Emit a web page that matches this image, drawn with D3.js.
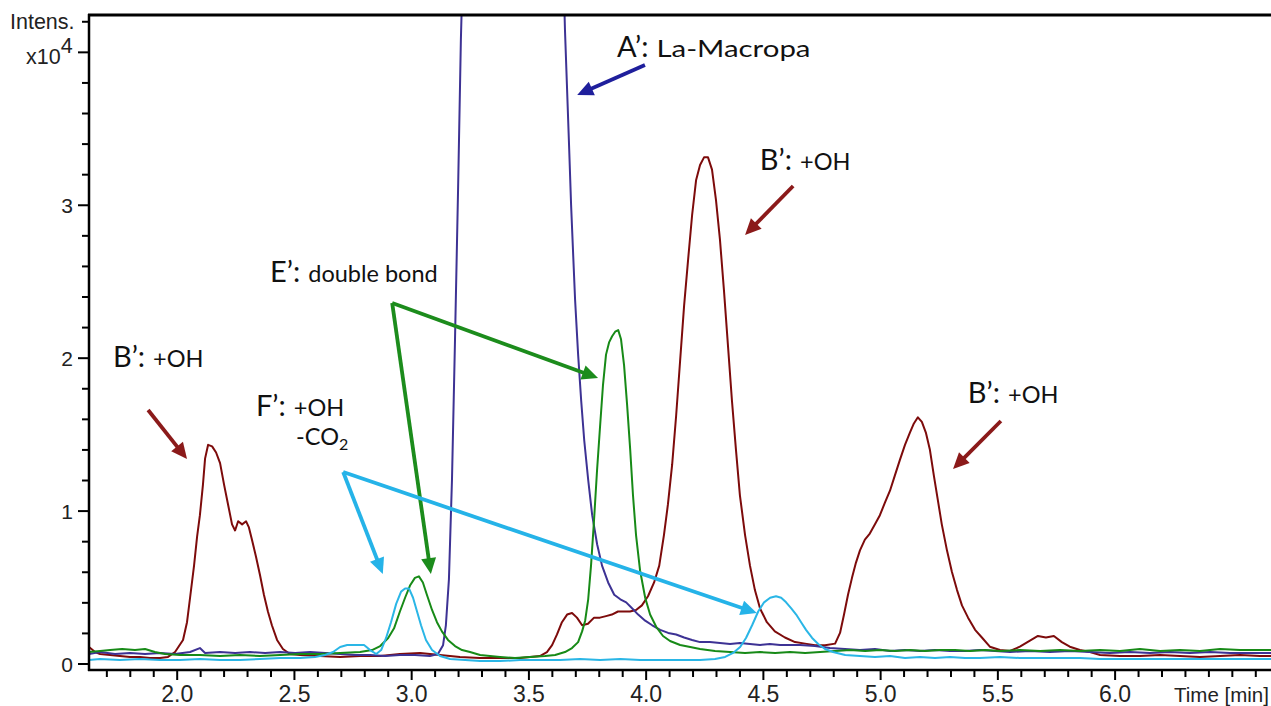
<!DOCTYPE html>
<html>
<head>
<meta charset="utf-8">
<script src="https://cdn.jsdelivr.net/npm/d3@7"></script>
<style>
  html, body { margin: 0; padding: 0; background: #fff; }
  svg { display: block; }
</style>
</head>
<body>
<svg id="chart" width="1271" height="706"></svg>
<script>
// Extracted ion chromatograms, intensity in units of 10^4, time in minutes.
// B': +OH metabolites
const hydroxyTrace = [
  [1.626,0.108],[1.652,0.075],[1.673,0.062],[1.716,0.056],[1.758,0.049],[1.801,0.043],[1.843,0.043],
  [1.886,0.036],[1.929,0.036],[1.963,0.043],[1.993,0.075],[2.027,0.154],[2.044,0.27],[2.057,0.43],
  [2.074,0.64],[2.087,0.83],[2.099,0.97],[2.112,1.17],[2.121,1.34],[2.134,1.43],[2.151,1.42],
  [2.168,1.38],[2.185,1.31],[2.202,1.17],[2.219,1.04],[2.236,0.91],[2.249,0.87],[2.262,0.93],
  [2.279,0.91],[2.296,0.93],[2.308,0.89],[2.321,0.81],[2.338,0.70],[2.355,0.58],[2.372,0.45],
  [2.389,0.34],[2.406,0.25],[2.428,0.154],[2.453,0.095],[2.483,0.062],[2.526,0.056],[2.611,0.049],
  [2.697,0.043],[2.782,0.049],[2.868,0.049],[2.952,0.062],[3.038,0.069],[3.123,0.056],[3.208,0.043],
  [3.293,0.036],[3.379,0.036],[3.464,0.036],[3.549,0.049],[3.579,0.075],[3.601,0.12],[3.622,0.19],
  [3.643,0.27],[3.665,0.32],[3.686,0.33],[3.707,0.30],[3.729,0.25],[3.754,0.26],[3.780,0.30],
  [3.805,0.30],[3.831,0.31],[3.856,0.32],[3.882,0.34],[3.907,0.34],[3.933,0.34],[3.959,0.35],
  [3.984,0.38],[4.010,0.44],[4.036,0.53],[4.058,0.64],[4.078,0.84],[4.095,1.04],[4.113,1.30],
  [4.130,1.62],[4.147,1.98],[4.164,2.34],[4.181,2.64],[4.198,2.93],[4.215,3.16],[4.232,3.26],
  [4.249,3.31],[4.266,3.31],[4.283,3.23],[4.300,3.03],[4.317,2.77],[4.334,2.44],[4.351,2.08],
  [4.368,1.72],[4.385,1.40],[4.402,1.10],[4.424,0.84],[4.445,0.64],[4.466,0.48],[4.488,0.36],
  [4.517,0.27],[4.551,0.21],[4.594,0.17],[4.637,0.14],[4.680,0.13],[4.722,0.12],[4.765,0.12],
  [4.808,0.13],[4.829,0.20],[4.846,0.32],[4.863,0.45],[4.880,0.56],[4.897,0.66],[4.914,0.74],
  [4.935,0.81],[4.956,0.85],[4.978,0.91],[4.999,0.97],[5.020,1.05],[5.042,1.13],[5.063,1.23],
  [5.084,1.33],[5.106,1.43],[5.127,1.51],[5.144,1.57],[5.161,1.61],[5.178,1.58],[5.195,1.51],
  [5.212,1.40],[5.229,1.23],[5.246,1.07],[5.263,0.91],[5.285,0.74],[5.306,0.60],[5.328,0.48],
  [5.349,0.38],[5.375,0.30],[5.405,0.22],[5.434,0.17],[5.468,0.11],[5.511,0.088],[5.554,0.082],
  [5.596,0.11],[5.639,0.15],[5.673,0.18],[5.707,0.17],[5.741,0.18],[5.775,0.14],[5.809,0.11],
  [5.852,0.088],[5.895,0.075],[5.938,0.056],[6.023,0.049],[6.108,0.049],[6.194,0.056],[6.279,0.049],
  [6.364,0.043],[6.450,0.049],[6.535,0.056],[6.620,0.049],[6.667,0.049]
];

// A': La-Macropa (parent compound, off scale)
const macropaTrace = [
  [1.626,0.062],[1.673,0.075],[1.737,0.062],[1.801,0.069],[1.865,0.062],[1.929,0.069],[1.993,0.062],
  [2.057,0.075],[2.099,0.101],[2.121,0.069],[2.185,0.075],[2.249,0.069],[2.313,0.075],[2.377,0.069],
  [2.441,0.075],[2.505,0.069],[2.569,0.075],[2.633,0.069],[2.697,0.062],[2.761,0.056],[2.825,0.056],
  [2.889,0.049],[2.952,0.056],[3.016,0.056],[3.080,0.049],[3.114,0.062],[3.136,0.12],[3.148,0.25],
  [3.161,0.55],[3.174,1.20],[3.187,2.12],[3.200,3.10],[3.212,4.08],[3.221,4.6],[3.435,8.5],
  [3.648,4.6],[3.656,4.14],[3.665,3.75],[3.674,3.36],[3.682,3.00],[3.691,2.67],[3.699,2.38],
  [3.712,2.02],[3.725,1.72],[3.738,1.46],[3.755,1.20],[3.772,0.97],[3.793,0.78],[3.814,0.64],
  [3.840,0.53],[3.866,0.45],[3.892,0.42],[3.917,0.40],[3.943,0.36],[3.968,0.32],[3.998,0.28],
  [4.028,0.25],[4.062,0.22],[4.096,0.20],[4.130,0.19],[4.164,0.17],[4.198,0.154],[4.232,0.14],
  [4.274,0.14],[4.317,0.134],[4.360,0.128],[4.402,0.134],[4.445,0.128],[4.488,0.121],[4.530,0.128],
  [4.573,0.121],[4.616,0.121],[4.658,0.121],[4.722,0.114],[4.786,0.101],[4.850,0.095],[4.914,0.088],
  [4.978,0.095],[5.042,0.082],[5.106,0.088],[5.170,0.082],[5.234,0.088],[5.298,0.082],[5.362,0.082],
  [5.425,0.088],[5.490,0.082],[5.554,0.075],[5.639,0.082],[5.724,0.075],[5.809,0.082],[5.895,0.075],
  [5.980,0.069],[6.065,0.075],[6.151,0.069],[6.236,0.075],[6.321,0.069],[6.407,0.075],[6.492,0.069],
  [6.577,0.069],[6.667,0.069]
];

// E': double bond
const doubleBondTrace = [
  [1.626,0.075],[1.673,0.082],[1.716,0.088],[1.767,0.095],[1.822,0.088],[1.865,0.095],[1.907,0.075],
  [1.950,0.062],[2.014,0.056],[2.099,0.056],[2.185,0.049],[2.270,0.056],[2.355,0.049],[2.441,0.056],
  [2.526,0.062],[2.611,0.062],[2.697,0.069],[2.782,0.075],[2.833,0.088],[2.868,0.114],[2.902,0.167],
  [2.927,0.23],[2.952,0.34],[2.974,0.43],[2.995,0.51],[3.016,0.56],[3.033,0.57],[3.050,0.53],
  [3.067,0.45],[3.089,0.35],[3.110,0.27],[3.131,0.21],[3.157,0.154],[3.187,0.114],[3.217,0.088],
  [3.251,0.075],[3.294,0.056],[3.336,0.049],[3.379,0.043],[3.443,0.036],[3.507,0.043],[3.571,0.049],
  [3.614,0.056],[3.656,0.075],[3.686,0.101],[3.712,0.14],[3.729,0.21],[3.742,0.28],[3.755,0.42],
  [3.767,0.64],[3.780,0.94],[3.793,1.27],[3.806,1.56],[3.818,1.82],[3.831,2.02],[3.844,2.10],
  [3.857,2.14],[3.870,2.17],[3.883,2.18],[3.895,2.12],[3.908,1.95],[3.921,1.69],[3.934,1.40],
  [3.946,1.10],[3.959,0.84],[3.976,0.61],[3.998,0.43],[4.019,0.32],[4.045,0.24],[4.074,0.18],
  [4.104,0.147],[4.147,0.121],[4.190,0.108],[4.232,0.095],[4.296,0.082],[4.360,0.075],[4.424,0.069],
  [4.488,0.075],[4.552,0.069],[4.616,0.075],[4.680,0.069],[4.744,0.075],[4.808,0.082],[4.872,0.088],
  [4.936,0.082],[4.999,0.088],[5.063,0.082],[5.127,0.088],[5.191,0.082],[5.255,0.088],[5.319,0.088],
  [5.383,0.082],[5.447,0.088],[5.511,0.082],[5.596,0.088],[5.682,0.082],[5.767,0.088],[5.852,0.082],
  [5.938,0.088],[6.023,0.082],[6.108,0.095],[6.194,0.082],[6.279,0.088],[6.364,0.082],[6.450,0.095],
  [6.535,0.088],[6.620,0.088],[6.667,0.088]
];

// F': +OH -CO2
const decarboxTrace = [
  [1.626,0.023],[1.673,0.029],[1.758,0.023],[1.843,0.029],[1.929,0.023],[2.014,0.023],[2.099,0.029],
  [2.185,0.023],[2.270,0.023],[2.355,0.029],[2.441,0.036],[2.526,0.036],[2.590,0.043],[2.633,0.056],
  [2.667,0.075],[2.697,0.108],[2.727,0.121],[2.765,0.121],[2.799,0.121],[2.825,0.088],[2.851,0.062],
  [2.872,0.088],[2.893,0.167],[2.914,0.27],[2.936,0.39],[2.957,0.47],[2.974,0.49],[2.991,0.49],
  [3.008,0.43],[3.025,0.34],[3.042,0.25],[3.063,0.154],[3.089,0.088],[3.123,0.049],[3.166,0.029],
  [3.230,0.023],[3.294,0.016],[3.379,0.016],[3.464,0.023],[3.549,0.023],[3.635,0.023],[3.720,0.029],
  [3.806,0.023],[3.892,0.029],[3.977,0.023],[4.062,0.023],[4.147,0.023],[4.232,0.023],[4.296,0.029],
  [4.339,0.043],[4.373,0.069],[4.403,0.108],[4.428,0.167],[4.454,0.25],[4.480,0.34],[4.505,0.40],
  [4.531,0.43],[4.556,0.44],[4.578,0.43],[4.599,0.40],[4.621,0.36],[4.642,0.32],[4.663,0.27],
  [4.684,0.22],[4.710,0.167],[4.736,0.128],[4.765,0.095],[4.799,0.075],[4.851,0.056],[4.914,0.049],
  [4.978,0.043],[5.042,0.049],[5.106,0.036],[5.170,0.043],[5.234,0.036],[5.298,0.043],[5.362,0.036],
  [5.425,0.036],[5.511,0.043],[5.596,0.036],[5.682,0.036],[5.767,0.036],[5.852,0.036],[5.938,0.029],
  [6.065,0.029],[6.194,0.029],[6.321,0.029],[6.450,0.029],[6.577,0.029],[6.667,0.029]
];

// Axis ticks
const timeMajorTicks = [2.0, 2.5, 3.0, 3.5, 4.0, 4.5, 5.0, 5.5, 6.0];
const intensityMajorTicks = [0, 1, 2, 3];
const timeAxisTitle = "Time [min]";
const intensityAxisTitle = "Intens.";

const svg = d3.select("#chart");
const W = 1271, H = 706;
const plot = { left: 89, right: 1271, top: 15, bottom: 670 };

const x = d3.scaleLinear().domain([1.626, 6.667]).range([plot.left, plot.right]);
const y = d3.scaleLinear().domain([-0.0425, 4.241]).range([plot.bottom, plot.top]);

svg.append("rect").attr("width", W).attr("height", H).attr("fill", "#fff");

svg.append("defs").append("clipPath").attr("id", "plot-clip")
  .append("rect")
  .attr("x", plot.left).attr("y", plot.top)
  .attr("width", plot.right - plot.left).attr("height", plot.bottom - plot.top);

// Traces
const line = d3.line().x(d => x(d[0])).y(d => y(d[1]));
const traces = [
  { data: hydroxyTrace, color: "#7d0b0b" },
  { data: macropaTrace, color: "#3d3294" },
  { data: doubleBondTrace, color: "#178a17" },
  { data: decarboxTrace, color: "#2ab6e6" }
];
const traceG = svg.append("g").attr("clip-path", "url(#plot-clip)");
traceG.selectAll("path").data(traces).join("path")
  .attr("d", d => line(d.data))
  .attr("fill", "none")
  .attr("stroke", d => d.color)
  .attr("stroke-width", 2)
  .attr("stroke-linejoin", "round");

// Axes
const axisFont = "'Liberation Sans', Arial, sans-serif";
const minorTime = d3.range(17, 67).map(i => i / 10).filter(v => !timeMajorTicks.some(m => Math.abs(m - v) < 1e-6));
const minorInt = d3.range(1, 22).map(i => i / 5).filter(v => !intensityMajorTicks.some(m => Math.abs(m - v) < 1e-6) && Math.abs(v - 4) > 1e-6);

const xAxisMinor = svg.append("g").attr("transform", `translate(0,${plot.bottom})`)
  .call(d3.axisBottom(x).tickValues(minorTime).tickSize(7).tickFormat(""));
const xAxisMajor = svg.append("g").attr("transform", `translate(0,${plot.bottom})`)
  .call(d3.axisBottom(x).tickValues(timeMajorTicks).tickSize(10).tickPadding(8).tickFormat(d3.format(".1f")));
[xAxisMinor, xAxisMajor].forEach(g => {
  g.select(".domain").remove();
  g.selectAll(".tick line").attr("stroke", "#000").attr("stroke-width", 2);
});
xAxisMajor.selectAll(".tick text")
  .attr("font-family", axisFont).attr("font-size", 23).attr("fill", "#222")
  .attr("dy", null).attr("y", 32);

const yAxisMinor = svg.append("g").attr("transform", `translate(${plot.left},0)`)
  .call(d3.axisLeft(y).tickValues(minorInt).tickSize(7).tickFormat(""));
const yAxisMajor = svg.append("g").attr("transform", `translate(${plot.left},0)`)
  .call(d3.axisLeft(y).tickValues(intensityMajorTicks.concat([4])).tickSize(11).tickPadding(5)
    .tickFormat(d => d === 4 ? "" : d));
[yAxisMinor, yAxisMajor].forEach(g => {
  g.select(".domain").remove();
  g.selectAll(".tick line").attr("stroke", "#000").attr("stroke-width", 2);
});
yAxisMajor.selectAll(".tick text")
  .attr("font-family", axisFont).attr("font-size", 21).attr("fill", "#222")
  .attr("dy", "0.36em");

// Scale label at the 10^4 tick and axis title at the top tick
const expLabel = svg.append("text")
  .attr("x", 26).attr("y", y(4) + 12)
  .attr("font-family", axisFont).attr("font-size", 21.5).attr("fill", "#222");
expLabel.append("tspan").text("x10");
expLabel.append("tspan").attr("dy", -11).attr("font-size", 21.5).text("4");

svg.append("text")
  .attr("x", 10).attr("y", y(4.2) + 8)
  .attr("font-family", axisFont).attr("font-size", 21.5).attr("fill", "#222")
  .text(intensityAxisTitle);

svg.append("text")
  .attr("x", 1174).attr("y", 702)
  .attr("font-family", axisFont).attr("font-size", 20.5).attr("fill", "#222")
  .text(timeAxisTitle);

// Frame lines
svg.append("line")
  .attr("x1", plot.left).attr("x2", plot.left).attr("y1", plot.top - 1).attr("y2", plot.bottom + 1)
  .attr("stroke", "#000").attr("stroke-width", 2.5);
svg.append("line")
  .attr("x1", plot.left - 1).attr("x2", plot.right).attr("y1", plot.bottom).attr("y2", plot.bottom)
  .attr("stroke", "#000").attr("stroke-width", 2.5);
svg.append("line")
  .attr("x1", plot.left - 1).attr("x2", plot.right).attr("y1", plot.top).attr("y2", plot.top)
  .attr("stroke", "#000").attr("stroke-width", 3);

// Annotation arrows, endpoints in (time, intensity)
const arrowSpecs = [
  { from: [3.997, 3.914], to: [3.708, 3.718], color: "#1f1f9c" },
  { from: [4.629, 3.123], to: [4.424, 2.802], color: "#8b1a1a" },
  { from: [2.919, 2.358], to: [3.797, 1.867], color: "#1c8c1c" },
  { from: [2.919, 2.358], to: [3.084, 0.585], color: "#1c8c1c" },
  { from: [1.878, 1.658], to: [2.044, 1.337], color: "#8b1a1a" },
  { from: [2.710, 1.252], to: [2.879, 0.585], color: "#25b3e8" },
  { from: [2.710, 1.252], to: [4.474, 0.330], color: "#25b3e8" },
  { from: [5.515, 1.586], to: [5.311, 1.272], color: "#8b1a1a" }
];
const arrowG = svg.append("g");
arrowSpecs.forEach(a => {
  const x1 = x(a.from[0]), y1 = y(a.from[1]), x2 = x(a.to[0]), y2 = y(a.to[1]);
  const ang = Math.atan2(y2 - y1, x2 - x1);
  const headLen = 16, headHalf = 7.5;
  const bx = x2 - headLen * Math.cos(ang), by = y2 - headLen * Math.sin(ang);
  arrowG.append("line")
    .attr("x1", x1).attr("y1", y1).attr("x2", bx + 2 * Math.cos(ang)).attr("y2", by + 2 * Math.sin(ang))
    .attr("stroke", a.color).attr("stroke-width", 3.8);
  const px = -Math.sin(ang), py = Math.cos(ang);
  arrowG.append("path")
    .attr("d", `M${x2},${y2}L${bx + px * headHalf},${by + py * headHalf}L${bx - px * headHalf},${by - py * headHalf}Z`)
    .attr("fill", a.color);
});

// Annotation labels, anchored at baseline-left in (time, intensity)
const labelFont = "Lato, 'Open Sans', sans-serif";
const labelSpecs = [
  { at: [3.878, 3.966], big: "A’:", small: "La-Macropa", width: 154 },
  { at: [4.487, 3.228], big: "B’:", small: "+OH" },
  { at: [2.398, 2.495], big: "E’:", small: "double bond" },
  { at: [1.728, 1.939], big: "B’:", small: "+OH" },
  { at: [2.338, 1.619], big: "F’:", small: "+OH" },
  { at: [5.374, 1.704], big: "B’:", small: "+OH" }
];
labelSpecs.forEach(l => {
  const t = svg.append("text")
    .attr("x", x(l.at[0])).attr("y", y(l.at[1]))
    .attr("font-family", labelFont).attr("fill", "#111");
  t.append("tspan").attr("font-size", 29).text(l.big);
  const s = t.append("tspan").attr("font-size", 23.5).attr("dx", 8).text(l.small);
  if (l.width) s.attr("textLength", l.width).attr("lengthAdjust", "spacingAndGlyphs");
});
const co2 = svg.append("text")
  .attr("x", x(2.509)).attr("y", y(1.429))
  .attr("font-family", labelFont).attr("font-size", 23.5).attr("fill", "#111");
co2.append("tspan").text("-CO");
co2.append("tspan").attr("font-size", 16).attr("dy", 5).text("2");
</script>
</body>
</html>
